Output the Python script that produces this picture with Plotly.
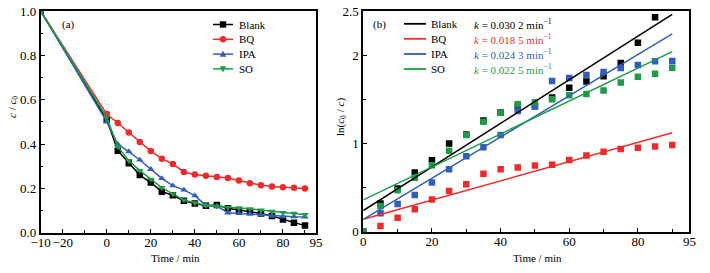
import plotly.graph_objects as go

# ---------------- data ----------------
time_a = [-30, 0, 5, 10, 15, 20, 25, 30, 35, 40, 45, 50, 55, 60, 65, 70, 75, 80, 85, 90]
blank_a = [1.0, 0.51, 0.370, 0.313, 0.260, 0.226, 0.185, 0.169, 0.144, 0.132, 0.122, 0.125, 0.110, 0.102, 0.096, 0.087, 0.075, 0.060, 0.045, 0.032]
bq_a = [1.0, 0.535, 0.495, 0.452, 0.409, 0.368, 0.334, 0.310, 0.274, 0.263, 0.257, 0.251, 0.247, 0.235, 0.223, 0.214, 0.208, 0.205, 0.203, 0.199]
ipa_a = [1.0, 0.50, 0.399, 0.366, 0.328, 0.286, 0.245, 0.212, 0.193, 0.167, 0.123, 0.120, 0.090, 0.087, 0.084, 0.081, 0.075, 0.072, 0.072, 0.071]
so_a = [1.0, 0.52, 0.388, 0.325, 0.280, 0.241, 0.203, 0.175, 0.147, 0.135, 0.123, 0.119, 0.114, 0.111, 0.108, 0.102, 0.096, 0.090, 0.087, 0.081]

time_b = [0, 5, 10, 15, 20, 25, 30, 35, 40, 45, 50, 55, 60, 65, 70, 75, 80, 85, 90]
blank_b = [0, 0.32, 0.49, 0.67, 0.81, 1.00, 1.10, 1.26, 1.35, 1.42, 1.42, 1.52, 1.63, 1.70, 1.76, 1.91, 2.14, 2.43, None]
bq_b = [0, 0.065, 0.157, 0.255, 0.365, 0.46, 0.538, 0.657, 0.706, 0.728, 0.751, 0.758, 0.811, 0.864, 0.906, 0.936, 0.951, 0.966, 0.981]
ipa_b = [0, 0.208, 0.313, 0.415, 0.558, 0.708, 0.855, 0.958, 1.094, 1.367, 1.42, 1.707, 1.74, 1.775, 1.81, 1.854, 1.888, 1.93, 1.933]
so_b = [0, 0.29, 0.469, 0.612, 0.752, 0.917, 1.095, 1.246, 1.348, 1.443, 1.465, 1.50, 1.545, 1.56, 1.60, 1.69, 1.755, 1.79, 1.857]

# fitted lines and labelled rate constants
fit_t = [0, 90]
fit_intercept = [0.24, 0.14, 0.14, 0.36]
fit_slope = [0.0247, 0.01089, 0.02333, 0.01867]
k_labels = ["0.030 2", "0.018 5", "0.024 3", "0.022 5"]

names = ["Blank", "BQ", "IPA", "SO"]
colors = ["#000000", "#ee2b2b", "#2f5fb9", "#1f9b48"]
symbols = ["square", "circle", "triangle-up", "triangle-down"]

xa_ticks = [-30, -20, 0, 20, 40, 60, 80, 95]
xa_ticktext = ["\u221210", "\u221220", "0", "20", "40", "60", "80", "95"]
xa_minor = [-10, 10, 30, 50, 70, 90]
xb_ticks = [0, 20, 40, 60, 80, 95]
xb_minor = [10, 30, 50, 70, 90]
yb_ticks = [0, 1, 2, 2.5]
yb_ticktext = ["0", "1", "2", "2.5"]
yb_minor = [0.5, 1.5]

W, H = 710, 273
FONT = "Liberation Serif, Times New Roman, serif"


def px(x):
    return x / W


def py(y):
    return 1 - y / H


fig = go.Figure()

series_a = [blank_a, bq_a, ipa_a, so_a]
for n, c, s, ys in zip(names, colors, symbols, series_a):
    fig.add_trace(go.Scatter(x=time_a, y=ys, mode="lines+markers", name=n,
                             line=dict(color=c, width=1.5),
                             marker=dict(symbol=s, size=6.5, color=c),
                             xaxis="x", yaxis="y", showlegend=False))

series_b = [blank_b, bq_b, ipa_b, so_b]
for n, c, ys in zip(names, colors, series_b):
    fig.add_trace(go.Scatter(x=time_b, y=ys, mode="markers", name=n,
                             marker=dict(symbol="square", size=6.5, color=c),
                             xaxis="x2", yaxis="y2", showlegend=False))
for n, c, b0, k in zip(names, colors, fit_intercept, fit_slope):
    fig.add_trace(go.Scatter(x=fit_t, y=[b0 + k * t for t in fit_t], mode="lines", name=n + " fit",
                             line=dict(color=c, width=1.5),
                             xaxis="x2", yaxis="y2", showlegend=False))

axis_common = dict(showline=True, linecolor="black", linewidth=1.8, mirror=True,
                   ticks="inside", ticklen=4, tickwidth=1.2, tickcolor="black",
                   showgrid=False, zeroline=False, tickangle=0, automargin=False,
                   tickfont=dict(family=FONT, size=13, color="black"))
minor_common = dict(ticks="inside", ticklen=2.5, tickwidth=1, tickcolor="black", showgrid=False)

fig.update_layout(
    template="none",
    width=W, height=H, margin=dict(l=0, r=0, t=0, b=0, autoexpand=False),
    paper_bgcolor="white", plot_bgcolor="white",
    font=dict(family=FONT, size=11, color="black"),
    xaxis=dict(domain=[px(40.7), px(316)], range=[-30, 95], tickmode="array",
               tickvals=xa_ticks, ticktext=xa_ticktext, ticklabelstandoff=-3,
               minor=dict(tickmode="array", tickvals=xa_minor, **minor_common),
               anchor="y", **axis_common),
    yaxis=dict(domain=[py(232.7), py(11)], range=[0, 1], tickmode="array",
               tickvals=[0, 0.2, 0.4, 0.6, 0.8, 1.0], tickformat=".1f",
               minor=dict(tickmode="array", tickvals=[0.1, 0.3, 0.5, 0.7, 0.9], **minor_common),
               anchor="x", **axis_common),
    xaxis2=dict(domain=[px(363.3), px(689.4)], range=[0, 95], tickmode="array",
                tickvals=xb_ticks, ticklabelstandoff=-3,
                minor=dict(tickmode="array", tickvals=xb_minor, **minor_common),
                anchor="y2", **axis_common),
    yaxis2=dict(domain=[py(231.7), py(11)], range=[0, 2.5], tickmode="array",
                tickvals=yb_ticks, ticktext=yb_ticktext,
                minor=dict(tickmode="array", tickvals=yb_minor, **minor_common),
                anchor="x2", **axis_common),
)

annotations = []
shapes = []

def text_at(x, y, text, size=11, color="black", xanchor="left", angle=0):
    annotations.append(dict(x=px(x), y=py(y), xref="paper", yref="paper", text=text,
                            showarrow=False, xanchor=xanchor, yanchor="middle",
                            textangle=angle,
                            font=dict(family=FONT, size=size, color=color)))

# panel labels
text_at(68, 24, "(a)", xanchor="center")
text_at(380, 24, "(b)", xanchor="center")

# axis titles
text_at(175.5, 258, "Time / min", xanchor="center")
text_at(537, 258, "Time / min", xanchor="center")
text_at(13, 107, "<i>c</i> / <i>c</i><sub>0</sub>", xanchor="center", angle=-90)
text_at(341, 117, "ln(<i>c</i><sub>0</sub> / <i>c</i>)", xanchor="center", angle=-90)

# legend (a): line + marker glyphs
rows_a = [24.5, 39.3, 54.1, 68.9]
for n, c, s, yy in zip(names, colors, symbols, rows_a):
    shapes.append(dict(type="line", xref="paper", yref="paper",
                       x0=px(213), x1=px(233), y0=py(yy), y1=py(yy),
                       line=dict(color=c, width=1.5)))
    cx, r = 223, 3.2
    if s == "square":
        shapes.append(dict(type="rect", xref="paper", yref="paper", x0=px(cx - r), x1=px(cx + r),
                           y0=py(yy + r), y1=py(yy - r), fillcolor=c, line=dict(width=0)))
    elif s == "circle":
        shapes.append(dict(type="circle", xref="paper", yref="paper", x0=px(cx - r), x1=px(cx + r),
                           y0=py(yy + r), y1=py(yy - r), fillcolor=c, line=dict(width=0)))
    elif s == "triangle-up":
        path = f"M {px(cx - r)} {py(yy + r * 0.8)} L {px(cx + r)} {py(yy + r * 0.8)} L {px(cx)} {py(yy - r * 1.1)} Z"
        shapes.append(dict(type="path", xref="paper", yref="paper", path=path, fillcolor=c, line=dict(width=0)))
    else:
        path = f"M {px(cx - r)} {py(yy - r * 0.8)} L {px(cx + r)} {py(yy - r * 0.8)} L {px(cx)} {py(yy + r * 1.1)} Z"
        shapes.append(dict(type="path", xref="paper", yref="paper", path=path, fillcolor=c, line=dict(width=0)))
    text_at(236.5, yy, n)

# legend (b): lines + rate constants
rows_b = [23.8, 38.8, 54.0, 69.0]
for n, c, kl, yy in zip(names, colors, k_labels, rows_b):
    shapes.append(dict(type="line", xref="paper", yref="paper",
                       x0=px(404), x1=px(426), y0=py(yy), y1=py(yy),
                       line=dict(color=c, width=1.8)))
    text_at(429, yy, n)
    text_at(471.5, yy, f"<i>k</i> = {kl} min<sup>\u22121</sup>", color=c)

fig.update_layout(annotations=annotations, shapes=shapes)

fig.write_html("out.html", config={"displayModeBar": False},
               post_script="document.body.style.margin='0';document.body.style.overflow='hidden';")
